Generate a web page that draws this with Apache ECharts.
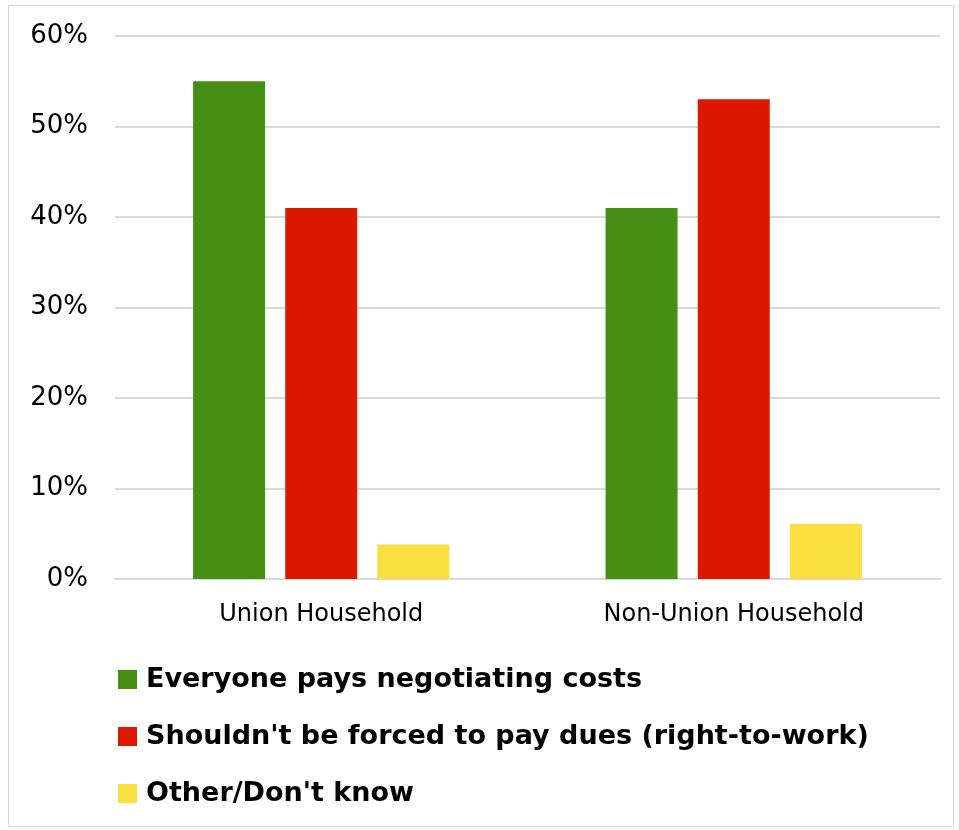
<!DOCTYPE html>
<html>
<head>
<meta charset="utf-8">
<script src="https://cdn.jsdelivr.net/npm/echarts@6/dist/echarts.min.js"></script>
<style>
  html, body { margin: 0; padding: 0; background: #fff; }
  #frame { position: absolute; left: 8px; top: 5px; width: 946px; height: 822px; border: 1px solid #d9d9d9; box-sizing: border-box; }
  #chart { position: absolute; left: 0; top: 0; width: 959px; height: 830px; }
</style>
</head>
<body>
<div id="frame"></div>
<div id="chart"></div>
<script>
const categories = ['Union Household', 'Non-Union Household']
const seriesNames = [
  'Everyone pays negotiating costs',
  "Shouldn't be forced to pay dues (right-to-work)",
  "Other/Don't know"
]
const everyonePays = [55, 41]
const rightToWork = [41, 53]
const otherDontKnow = [3.8, 6.1]
const colors = ['#458F12', '#DC1800', '#FBDF41']

const chart = echarts.init(document.getElementById('chart'))

const barStyle = {
  type: 'bar',
  barWidth: 72,
  barGap: '28%'
}

chart.setOption({
  animation: false,
  color: colors,
  textStyle: { fontFamily: 'DejaVu Sans' },
  grid: { left: 115, right: 19, top: 36, bottom: 251 },
  legend: {
    orient: 'vertical',
    left: 113,
    top: 661,
    itemWidth: 19,
    itemHeight: 19,
    itemGap: 30,
    icon: 'rect',
    textStyle: { fontSize: 27, fontWeight: 'bold', color: '#000', fontFamily: 'DejaVu Sans', padding: [0, 0, 0, 4] },
    data: seriesNames
  },
  xAxis: {
    type: 'category',
    data: categories,
    axisTick: { show: false },
    axisLine: { lineStyle: { color: '#d9d9d9', width: 2 } },
    axisLabel: { fontSize: 24, color: '#000', margin: 24, fontFamily: 'DejaVu Sans' }
  },
  yAxis: {
    type: 'value',
    min: 0,
    max: 60,
    interval: 10,
    axisLine: { show: false },
    axisTick: { show: false },
    splitLine: { lineStyle: { color: '#d9d9d9', width: 2 } },
    axisLabel: { fontSize: 26, color: '#000', margin: 27, fontFamily: 'DejaVu Sans', formatter: '{value}%' }
  },
  series: [
    Object.assign({ name: seriesNames[0], data: everyonePays }, barStyle),
    Object.assign({ name: seriesNames[1], data: rightToWork }, barStyle),
    Object.assign({ name: seriesNames[2], data: otherDontKnow }, barStyle)
  ]
})
</script>
</body>
</html>
